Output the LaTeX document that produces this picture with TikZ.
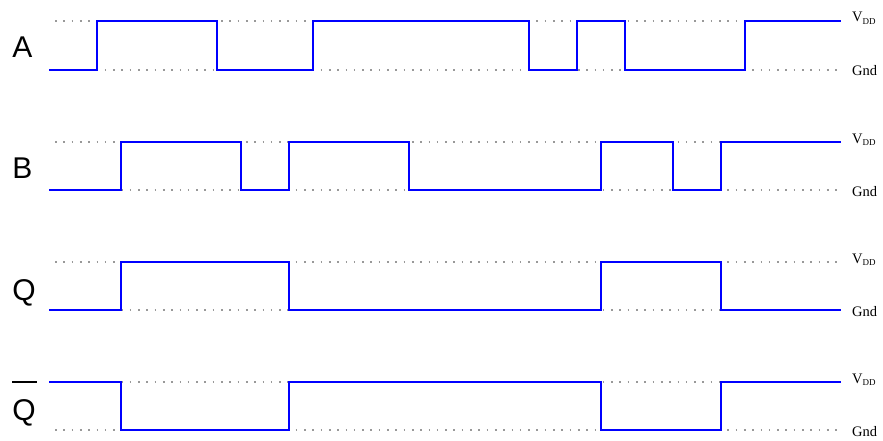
\documentclass[tikz,border=0pt]{standalone}
\usepackage{fontspec}
\setmainfont{Liberation Serif}
\newfontfamily\lblfont{Liberation Sans}
\begin{document}
\begin{tikzpicture}[x=1pt,y=-1pt,
  sig/.style={draw={rgb,255:red,0;green,0;blue,255}, line width=2pt, line join=miter},
  guide/.style={draw=black!40, line width=1.6pt, dash pattern=on 1.6pt off 6.7pt},
  siglabel/.style={font=\lblfont\fontsize{30}{30}\selectfont, inner sep=0pt},
  railv/.style={anchor=base west, inner sep=0pt, font=\fontsize{14.5}{14.5}\selectfont},
  railg/.style={anchor=base west, inner sep=0pt, font=\fontsize{14.5}{14.5}\selectfont}]
\useasboundingbox (0,0) rectangle (883,441);

% guide lines and rail labels
\foreach \hi/\lo/\n in {21/70/a,142/190/b,262/310/q,382/430/qb}{
  \draw[guide] (55,\hi) -- (841,\hi);
  \draw[guide] (55,\lo) -- (841,\lo);
  \node[railv] (vdd\n) at (852,\hi+1) {V\raisebox{-2.5pt}{\fontsize{9}{9}\selectfont DD}};
  \node[railg] (gnd\n) at (852,\lo+6) {Gnd};
}

% signals
\draw[sig] (49,70) -| (97,21) -| (217,70) -| (313,21) -| (529,70) -| (577,21) -| (625,70) -| (745,21) -- (841,21);
\draw[sig] (49,190) -| (121,142) -| (241,190) -| (289,142) -| (409,190) -| (601,142) -| (673,190) -| (721,142) -- (841,142);
\draw[sig] (49,310) -| (121,262) -| (289,310) -| (601,262) -| (721,310) -- (841,310);
\draw[sig] (49,382) -| (121,430) -| (289,382) -| (601,430) -| (721,382) -- (841,382);

% signal names
\node[siglabel] (la) at (22.5,47.5) {A};
\node[siglabel] (lb) at (22.5,168) {B};
\node[siglabel, anchor=base] (lq) at (24,300) {Q};
\node[siglabel, anchor=base] (lqb) at (24,420) {Q};
\draw[line width=1.6pt] (12,382) -- (37,382);
\end{tikzpicture}
\end{document}
